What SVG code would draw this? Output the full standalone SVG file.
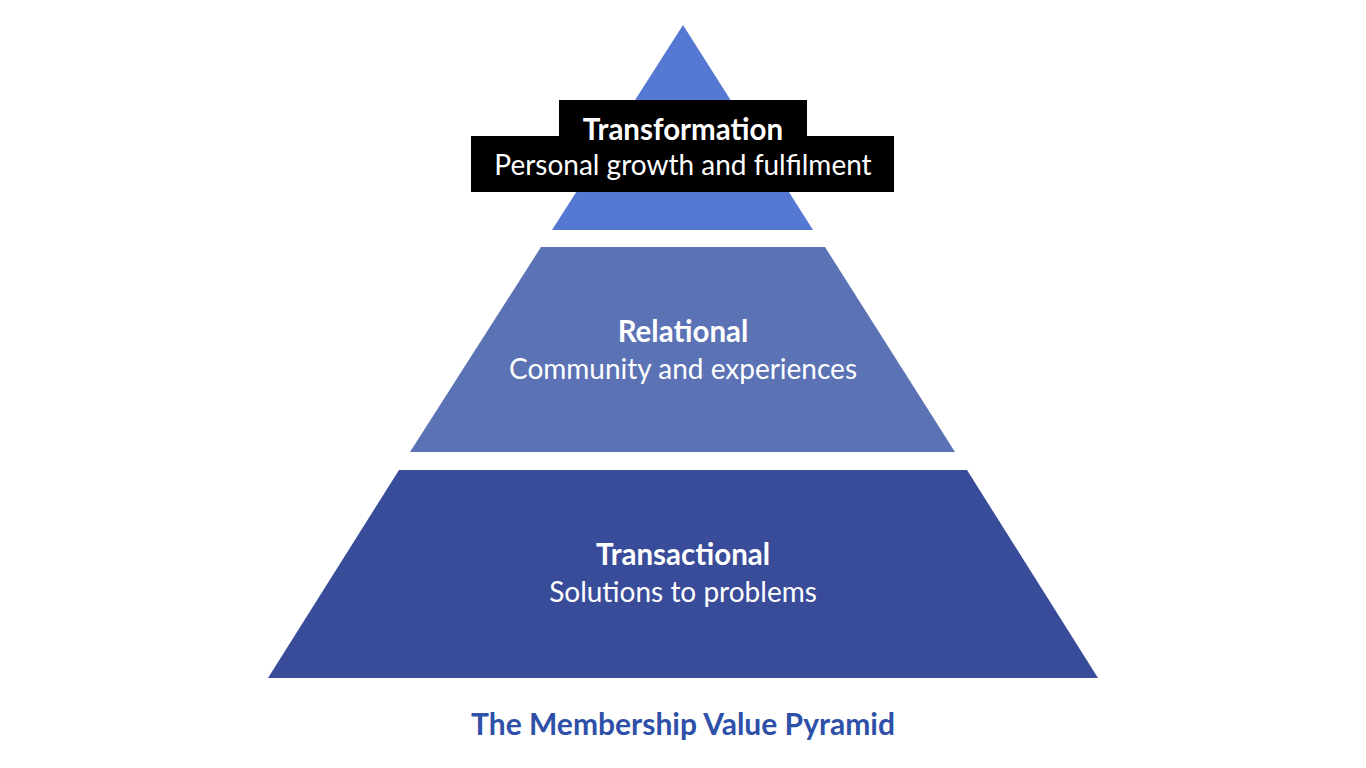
<svg xmlns="http://www.w3.org/2000/svg" width="1366" height="768" viewBox="0 0 1366 768">
<style>
.t{font-family:Lato,"Open Sans","Liberation Sans",sans-serif;text-anchor:middle;fill:#fff}
.b{font-weight:700;font-size:29.5px}
.r{font-weight:400;font-size:28px}
</style>
<rect width="1366" height="768" fill="#fff"/>
<g id="level-top">
<polygon points="683,25 813,230 552,230" fill="#5578D3"/>
<rect x="559" y="100" width="248" height="40" fill="#000"/>
<rect x="471" y="136" width="423" height="56" fill="#000"/>
<text class="t b" x="683" y="140">Transformation</text>
<text class="t r" x="683" y="175">Personal growth and fulfilment</text>
</g>
<g id="level-middle">
<polygon points="541,247 825,247 955,452 410,452" fill="#5B72B5"/>
<text class="t b" x="683" y="342">Relational</text>
<text class="t r" x="683" y="379">Community and experiences</text>
</g>
<g id="level-bottom">
<polygon points="399,470 967,470 1098,678 268,678" fill="#394C99"/>
<text class="t b" x="683" y="565">Transactional</text>
<text class="t r" x="683" y="602">Solutions to problems</text>
</g>
<g id="connectors"/>
<text id="title" class="t b" x="683" y="735" style="fill:#2F50A8;font-size:30px">The Membership Value Pyramid</text>
</svg>
